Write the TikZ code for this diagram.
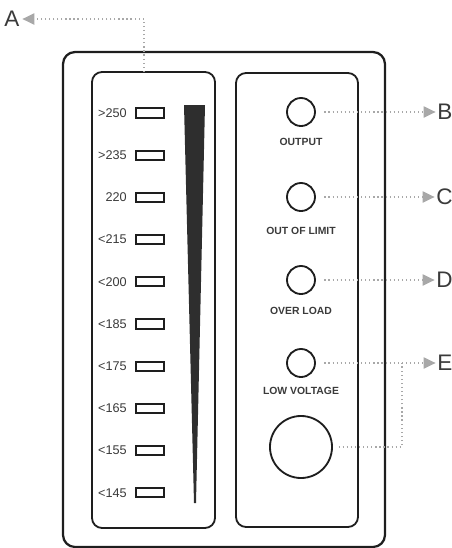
\documentclass[tikz,border=0pt]{standalone}
\usepackage{fontspec}
\setmainfont{Liberation Sans}
\usepackage{tikz}
\usepackage{xcolor}
\usetikzlibrary{positioning, arrows.meta}
\definecolor{edgedark}{HTML}{1E1E1E}
\definecolor{inkgray}{HTML}{3A3A3A}
\definecolor{leadgray}{HTML}{A8A8A8}

\begin{document}
\begin{tikzpicture}[
  x=0.025cm, y=-0.025cm,
  casing/.style={draw=edgedark, line width=1.6pt, rounded corners=0.3cm},
  panel/.style={draw=edgedark, line width=1.3pt, rounded corners=0.25cm},
  led/.style={draw=edgedark, circle, line width=1.3pt, minimum size=0.7cm, inner sep=0},
  knob/.style={draw=edgedark, circle, line width=1.3pt, minimum size=1.55cm, inner sep=0},
  ledtext/.style={font=\bfseries\fontsize{7.4}{9}\selectfont, text=inkgray},
  scaletext/.style={font=\fontsize{9}{10}\selectfont, text=inkgray, anchor=east, inner sep=0},
  segment/.style={draw=edgedark, line width=1.3pt, minimum width=0.72cm, minimum height=0.23cm, inner sep=0},
  callout/.style={font=\fontsize{16}{18}\selectfont, text=inkgray, inner sep=0},
  pointer/.style={-{Triangle[length=8.5pt, width=8pt]}, leadgray, line width=0.9pt, dotted},
  guide/.style={leadgray, line width=0.9pt, dotted}
]
\useasboundingbox (0,0) rectangle (452,548);

% housing and the two panels
\draw[casing] (63,52) rectangle (385,547);
\draw[panel] (92,72) rectangle (215,528);
\draw[panel] (236,73) rectangle (358,527);

% voltage scale
\foreach \lbl [count=\i from 0] in {>250,>235,220,<215,<200,<185,<175,<165,<155,<145} {
  \node[scaletext] (s\i) at (127,113+42.2*\i) {\lbl};
  \node[segment] (r\i) at (150,113+42.2*\i) {};
}
\fill[inkgray!80!black] (184,105) -- (205,105) -- (196,503) -- (194,503) -- cycle;

% indicators
\node[led] (output) at (301,112) {};
\node[ledtext] (outputtxt) at (301,142) {OUTPUT};
\node[led] (limit) at (301,197) {};
\node[ledtext] (limittxt) at (301,231) {OUT OF LIMIT};
\node[led] (overload) at (301,280) {};
\node[ledtext] (overloadtxt) at (301,311) {OVER LOAD};
\node[led] (lowvolt) at (301,363) {};
\node[ledtext] (lowvolttxt) at (301,391) {LOW VOLTAGE};
\node[knob] (knob) at (301,447) {};

% callouts
\node[callout, anchor=west] (lA) at (4,19) {A};
\node[callout, anchor=west] (lB) at (437,112) {B};
\node[callout, anchor=west] (lC) at (436,197) {C};
\node[callout, anchor=west] (lD) at (436,280) {D};
\node[callout, anchor=west] (lE) at (437,363) {E};

\coordinate (aFoot) at (144,72);
\coordinate (eJoin) at (402,363);
\draw[pointer] (aFoot) |- ([xshift=2pt]lA.east);
\draw[pointer, shorten <=6pt] (output.east) -- ([xshift=-1pt]lB.west);
\draw[pointer, shorten <=6pt] (limit.east) -- ([xshift=-1pt]lC.west);
\draw[pointer, shorten <=6pt] (overload.east) -- ([xshift=-1pt]lD.west);
\draw[pointer, shorten <=6pt] (lowvolt.east) -- ([xshift=-1pt]lE.west);
\draw[guide, shorten <=4pt] (knob.east) -| (eJoin);

\end{tikzpicture}
\end{document}
